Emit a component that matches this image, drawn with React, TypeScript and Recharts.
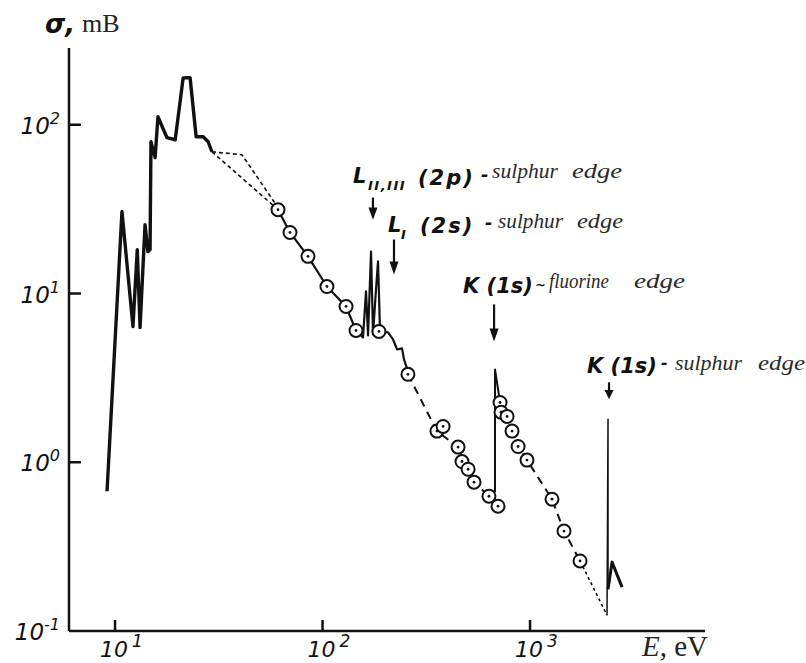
import React from 'react';
import { ComposedChart, Scatter, XAxis, YAxis, ReferenceDot } from 'recharts';

// photon energy E (eV) and cross-section sigma (mB)
const thresholdE = [9.15, 10.8, 12.2, 12.8, 13.2, 13.95, 14.4, 14.75, 14.9, 15.6, 16.1, 17.8, 19.5, 21.3, 23.0, 24.6, 26.6, 28.1, 29.3];
const thresholdS = [0.673, 30.6, 6.38, 18.2, 6.29, 25.6, 17.7, 18.2, 79.3, 63.8, 111.5, 83.8, 81.5, 189.7, 190, 84.9, 84.9, 79.3, 69.2];

const bridgeUpperE = [29.3, 40.9, 59.7];
const bridgeUpperS = [69.2, 66.4, 33.6];
const bridgeLowerE = [29.3, 61.0];
const bridgeLowerS = [69.2, 31.4];

const lEdgeE = [61.0, 69.7, 85.1, 105, 129.8, 145, 156.7, 162, 165.7, 171.3, 175.1, 181, 185.1, 189.3, 206.9, 218.7, 228.6, 241.6, 247, 258];
const lEdgeS = [31.4, 23.0, 16.6, 11.0, 8.38, 6.04, 5.49, 10.3, 5.64, 17.7, 5.72, 10.6, 15.5, 5.96, 5.88, 5.34, 4.66, 4.73, 4.07, 3.46];

const belowFE = [258, 356, 450, 470, 503, 537, 634];
const belowFS = [3.32, 1.53, 1.23, 1.01, 0.909, 0.762, 0.629];

const fEdgeE = [634, 678, 678, 717];
const fEdgeS = [0.67, 0.67, 3.55, 2.26];

const aboveFE = [717, 775, 819, 876, 967, 1276, 1458, 1742];
const aboveFS = [2.26, 1.87, 1.53, 1.24, 1.03, 0.604, 0.391, 0.26];

const tailE = [1742, 2350];
const tailS = [0.26, 0.124];

const sEdgeE = [2350, 2376, 2376];
const sEdgeS = [0.124, 1.8, 0.177];

const sPeakE = [2376, 2485, 2776];
const sPeakS = [0.177, 0.256, 0.182];

// measured points (open circles)
const circleE = [61.0, 69.7, 85.1, 105, 129.8, 145, 187, 258, 356, 381, 450, 470, 503, 537, 634, 701, 717, 725, 775, 819, 876, 967, 1276, 1458, 1742];
const circleS = [31.4, 23.0, 16.6, 11.0, 8.38, 6.04, 5.96, 3.32, 1.53, 1.63, 1.23, 1.01, 0.909, 0.762, 0.629, 0.549, 2.26, 1.98, 1.87, 1.53, 1.24, 1.03, 0.604, 0.391, 0.26];

// absorption edges marked with arrows (E, sigma at arrow tip)
const edgeE = [175, 221, 671, 2403];
const edgeTipS = [27.4, 12.95, 5.2, 2.36];

const xTicks = [10, 100, 1000];
const yTicks = [0.1, 1, 10, 100];

const zip = (E: number[], S: number[]) => E.map((e, i) => ({ E: e, s: S[i] }));

const HAND = '"DejaVu Sans", sans-serif';
const SERIF = '"Liberation Serif", "Times New Roman", serif';
const INK = '#111';

const Ring = ({ cx, cy }: any) => (
  <g>
    <circle cx={cx} cy={cy} r={6.5} fill="#fff" stroke={INK} strokeWidth={2} />
    <circle cx={cx} cy={cy} r={1.4} fill={INK} />
  </g>
);

const NoDot = () => <g />;

const EdgeArrow = ({ cx, cy, len }: { cx: number; cy: number; len: number }) => {
  const head = Math.min(13, len * 0.55);
  return (
    <g>
      <line x1={cx} y1={cy - len} x2={cx} y2={cy - head + 1} stroke={INK} strokeWidth={2.2} />
      <path d={`M${cx - 4.5},${cy - head} L${cx + 4.5},${cy - head} L${cx},${cy} Z`} fill={INK} />
    </g>
  );
};
const arrowLen = [22, 35, 37, 17];

function YTick({ x, y, payload }: any) {
  const exp = Math.round(Math.log10(payload.value));
  return (
    <g>
      {exp > -1 && <line x1={x} x2={x + 12} y1={y} y2={y} stroke={INK} strokeWidth={2.5} />}
      <text x={x - 9} y={y + 9} textAnchor="end" fontFamily={HAND} fontStyle="italic" fontSize={23} fill={INK}>
        10<tspan dy={-10} fontSize={16}>{exp}</tspan>
      </text>
    </g>
  );
}

function XTick({ x, y, payload }: any) {
  const exp = Math.round(Math.log10(payload.value));
  return (
    <g>
      <line x1={x} x2={x} y1={y} y2={y - 11} stroke={INK} strokeWidth={2.5} />
      <text x={x - 15} y={y + 26} fontFamily={HAND} fontStyle="italic" fontSize={22} fill={INK}>
        10<tspan dx={4} dy={-10} fontSize={17}>{exp}</tspan>
      </text>
    </g>
  );
}

function Annotations() {
  const bold = { fontFamily: HAND, fontStyle: 'italic' as const, fontWeight: 700, fill: INK };
  const serif = { fontFamily: SERIF, fontStyle: 'italic' as const, fill: '#2a2a2a', fontSize: 22 };
  return (
    <svg width={806} height={663} style={{ position: 'absolute', left: 0, top: 0, pointerEvents: 'none' }}>
      {/* axis titles */}
      <text x={45} y={33} fontFamily={HAND} fontWeight={700} fontStyle="italic" fontSize={26} fill={INK}>σ,</text>
      <text x={82} y={32} fontFamily={SERIF} fontSize={26} fill="#222">mB</text>
      <text x={642} y={656} fontFamily={SERIF} fontSize={29} fill="#222">
        <tspan fontStyle="italic">E</tspan>, eV
      </text>

      {/* L II,III (2p) */}
      <text x={353} y={183} fontSize={21} {...bold}>L</text>
      <text x={368} y={190} fontSize={13} letterSpacing={1.5} {...bold}>II,III</text>
      <text x={418} y={185} fontSize={21} letterSpacing={2} {...bold}>(2p)</text>
      <text x={481} y={181} fontSize={18} {...bold}>-</text>
      <text x={492} y={178} textLength={66} lengthAdjust="spacingAndGlyphs" {...serif}>sulphur</text>
      <text x={572} y={178} textLength={50} lengthAdjust="spacingAndGlyphs" {...serif}>edge</text>

      {/* L I (2s) */}
      <text x={388} y={232} fontSize={21} {...bold}>L</text>
      <text x={401} y={239} fontSize={13} {...bold}>I</text>
      <text x={420} y={233} fontSize={21} letterSpacing={2} {...bold}>(2s)</text>
      <text x={485} y={229} fontSize={18} {...bold}>-</text>
      <text x={498} y={228} textLength={65} lengthAdjust="spacingAndGlyphs" {...serif}>sulphur</text>
      <text x={577} y={228} textLength={46} lengthAdjust="spacingAndGlyphs" {...serif}>edge</text>

      {/* K (1s) fluorine */}
      <text x={463} y={293} fontSize={21} {...bold}>K (1s)</text>
      <text x={535} y={289} fontSize={13} {...bold}>~</text>
      <text x={549} y={288} textLength={60} lengthAdjust="spacingAndGlyphs" {...serif}>fluorine</text>
      <text x={634} y={288} textLength={51} lengthAdjust="spacingAndGlyphs" {...serif}>edge</text>

      {/* K (1s) sulphur */}
      <text x={587} y={373} fontSize={21} {...bold}>K (1s)</text>
      <text x={661} y={368} fontSize={16} {...bold}>-</text>
      <text x={675} y={370} textLength={67} lengthAdjust="spacingAndGlyphs" {...serif}>sulphur</text>
      <text x={758} y={370} textLength={47} lengthAdjust="spacingAndGlyphs" {...serif}>edge</text>
    </svg>
  );
}

const lineSeries = [
  { key: 'threshold', data: zip(thresholdE, thresholdS), width: 3.4, dash: undefined },
  { key: 'bridgeUpper', data: zip(bridgeUpperE, bridgeUpperS), width: 1.6, dash: '4 3' },
  { key: 'bridgeLower', data: zip(bridgeLowerE, bridgeLowerS), width: 1.6, dash: '4 3' },
  { key: 'lEdge', data: zip(lEdgeE, lEdgeS), width: 2.2, dash: undefined },
  { key: 'belowF', data: zip(belowFE, belowFS), width: 2, dash: '8 6' },
  { key: 'fEdge', data: zip(fEdgeE, fEdgeS), width: 2, dash: undefined },
  { key: 'aboveF', data: zip(aboveFE, aboveFS), width: 2, dash: '8 6' },
  { key: 'tail', data: zip(tailE, tailS), width: 1.6, dash: '3 3' },
  { key: 'sEdge', data: zip(sEdgeE, sEdgeS), width: 1.5, dash: undefined },
  { key: 'sPeak', data: zip(sPeakE, sPeakS), width: 3, dash: undefined },
];

export default function App() {
  return (
    <div style={{ position: 'absolute', left: 0, top: 0, width: 806, height: 663, background: '#fff' }}>
      <ComposedChart width={806} height={663} margin={{ top: 48, right: 101, bottom: 2, left: 9 }}>
        <XAxis
          type="number"
          dataKey="E"
          scale="log"
          domain={[6, 6970]}
          allowDataOverflow
          ticks={xTicks}
          interval={0}
          height={30}
          tickSize={0}
          tickMargin={0}
          tickLine={false}
          tick={<XTick />}
          axisLine={{ stroke: INK, strokeWidth: 2.5 }}
        />
        <YAxis
          type="number"
          dataKey="s"
          scale="log"
          domain={[0.1, 285]}
          allowDataOverflow
          ticks={yTicks}
          interval={0}
          width={60}
          tickSize={0}
          tickMargin={0}
          tickLine={false}
          tick={<YTick />}
          axisLine={{ stroke: INK, strokeWidth: 2.5 }}
        />
        {lineSeries.map((ls) => (
          <Scatter
            key={ls.key}
            data={ls.data}
            fill={INK}
            shape={NoDot}
            line={{ stroke: INK, strokeWidth: ls.width, strokeDasharray: ls.dash, strokeLinejoin: 'round' }}
            isAnimationActive={false}
          />
        ))}
        <Scatter data={zip(circleE, circleS)} fill={INK} shape={Ring} isAnimationActive={false} />
        {edgeE.map((e, i) => (
          <ReferenceDot
            key={e}
            x={e}
            y={edgeTipS[i]}
            r={0}
            shape={(p: any) => <EdgeArrow cx={p.cx} cy={p.cy} len={arrowLen[i]} />}
          />
        ))}
      </ComposedChart>
      <Annotations />
    </div>
  );
}
